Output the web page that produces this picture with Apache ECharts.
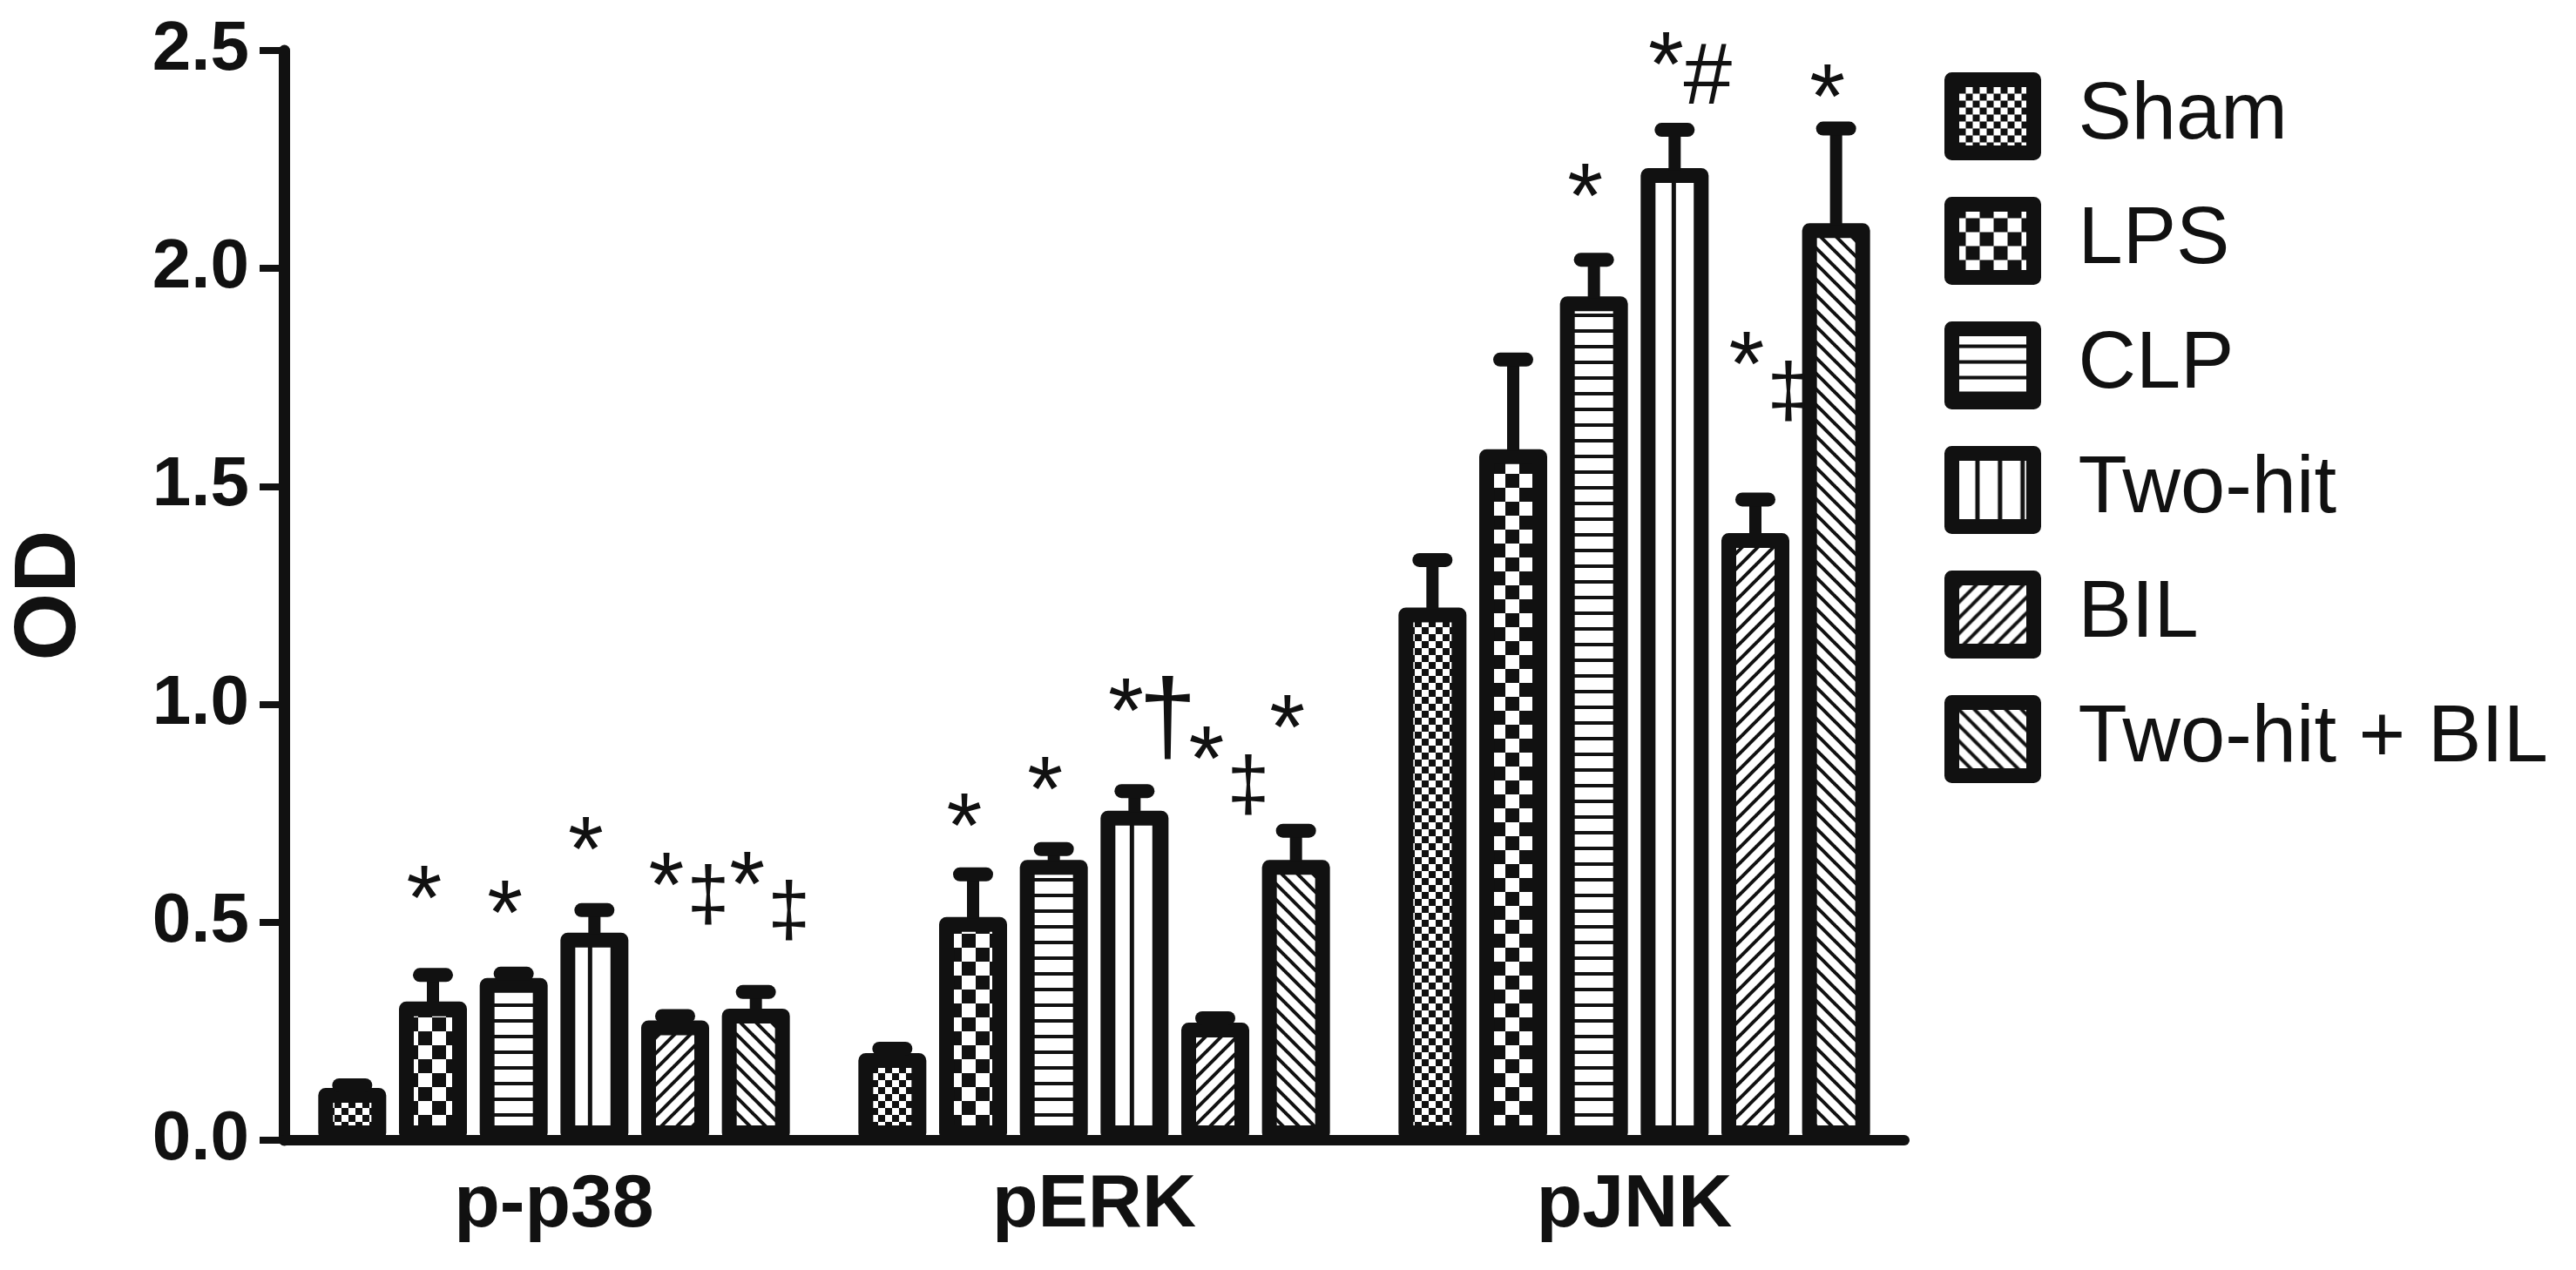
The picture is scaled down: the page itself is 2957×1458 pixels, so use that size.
<!DOCTYPE html>
<html>
<head>
<meta charset="utf-8">
<script src="https://cdn.jsdelivr.net/npm/echarts@6/dist/echarts.min.js"></script>
<style>
html,body{margin:0;padding:0;background:#ffffff;}
#chart{width:2957px;height:1458px;}
</style>
</head>
<body>
<div id="chart"></div>
<script>
// ---------------- data ----------------
const categories = ['p-p38', 'pERK', 'pJNK'];
const groups = ['Sham', 'LPS', 'CLP', 'Two-hit', 'BIL', 'Two-hit + BIL'];

const shamMean      = [0.12, 0.20, 1.222];
const lpsMean       = [0.318, 0.512, 1.585];
const clpMean       = [0.372, 0.643, 1.936];
const twoHitMean    = [0.476, 0.756, 2.23];
const bilMean       = [0.275, 0.27, 1.393];
const twoHitBilMean = [0.302, 0.643, 2.104];

const shamErr      = [0.006, 0.01, 0.109];
const lpsErr       = [0.061, 0.098, 0.206];
const clpErr       = [0.01, 0.025, 0.084];
const twoHitErr    = [0.052, 0.045, 0.088];
const bilErr       = [0.01, 0.01, 0.077];
const twoHitBilErr = [0.038, 0.067, 0.217];

// significance marks (text per category)
const shamMark      = ['', '', ''];
const lpsMark       = ['*', '*', ''];
const clpMark       = ['*', '*', '*'];
const twoHitMark    = ['*', '*\u2020', '*#'];
const bilMark       = ['*\u2021', '*\u2021', '*\u2021'];
const twoHitBilMark = ['*\u2021', '*', '*'];

// heights (OD units) at which the marks sit
const shamStarAt      = [null, null, null];
const lpsStarAt       = [0.590, 0.755, null];
const clpStarAt       = [0.556, 0.839, 2.200];
const twoHitStarAt    = [0.701, 1.019, 2.502];
const bilStarAt       = [0.620, 0.909, 1.815];
const twoHitBilStarAt = [0.622, 0.981, 2.428];

const shamSymAt      = [null, null, null];
const lpsSymAt       = [null, null, null];
const clpSymAt       = [null, null, null];
const twoHitSymAt    = [null, 0.945, 2.434];
const bilSymAt       = [0.548, 0.799, 1.703];
const twoHitBilSymAt = [0.512, null, null];

const yMin = 0, yMax = 2.5, yStep = 0.5;

const means = [shamMean, lpsMean, clpMean, twoHitMean, bilMean, twoHitBilMean];
const errs = [shamErr, lpsErr, clpErr, twoHitErr, bilErr, twoHitBilErr];
const marks = [shamMark, lpsMark, clpMark, twoHitMark, bilMark, twoHitBilMark];
const starAt = [shamStarAt, lpsStarAt, clpStarAt, twoHitStarAt, bilStarAt, twoHitBilStarAt];
const symAt = [shamSymAt, lpsSymAt, clpSymAt, twoHitSymAt, bilSymAt, twoHitBilSymAt];

// ---------------- style ----------------
const INK = '#111111';
const BAR_W = 78;
const BAR_GAP = 0.188;
const BORDER = 17;
const FONT = '"Liberation Sans", Arial, Helvetica, sans-serif';
const GRID = {left: 320, top: 58, width: 1866, height: 1251};

function tile(w, h, draw) {
  const c = document.createElement('canvas');
  c.width = w; c.height = h;
  const g = c.getContext('2d');
  g.fillStyle = '#ffffff';
  g.fillRect(0, 0, w, h);
  g.fillStyle = INK;
  g.strokeStyle = INK;
  draw(g, w, h);
  return {image: c, repeat: 'repeat'};
}
function checker(cell) {
  return tile(cell * 2, cell * 2, (g) => {
    g.fillRect(0, 0, cell, cell);
    g.fillRect(cell, cell, cell, cell);
  });
}
function hLines(period, thick) {
  return tile(8, period, (g, w) => { g.fillRect(0, 0, w, thick); });
}
function vLines(bandW, count, thick, phase) {
  return tile(bandW, 8, (g, w, h) => {
    const p = bandW / count;
    for (let k = -1; k <= count; k++) {
      g.fillRect(phase + k * p - thick / 2, 0, thick, h);
    }
  });
}
function diag(period, thick, up) {
  return tile(period, period, (g, P) => {
    g.lineWidth = thick;
    for (let k = -1; k <= 1; k++) {
      g.beginPath();
      if (up) { g.moveTo(k * P - 1, P + 1); g.lineTo(k * P + P + 1, -1); }
      else { g.moveTo(k * P - 1, -1); g.lineTo(k * P + P + 1, P + 1); }
      g.stroke();
    }
  });
}

const bandW = GRID.width / categories.length;
const barStep = BAR_W * (1 + BAR_GAP);
const twoHitCenter = GRID.left + bandW / 2 + (3 - (groups.length - 1) / 2) * barStep;

const patterns = [
  checker(8),
  checker(16),
  hLines(18, 4),
  vLines(bandW, 24, 5, ((twoHitCenter % bandW) + bandW) % bandW),
  diag(18, 4, true),
  diag(18, 4, false)
];

const barSeries = groups.map((name, gi) => ({
  name: name,
  type: 'bar',
  barWidth: BAR_W,
  barGap: (BAR_GAP * 100) + '%',
  data: means[gi],
  itemStyle: {color: patterns[gi], borderColor: INK, borderWidth: BORDER, borderJoin: 'round'},
  emphasis: {disabled: true},
  z: 2
}));

// error bars
const errRows = [];
groups.forEach((g, gi) => categories.forEach((c, ci) => {
  errRows.push([ci, means[gi][ci], errs[gi][ci], gi]);
}));
const errSeries = {
  name: 'errors',
  type: 'custom',
  clip: false,
  z: 3,
  encode: {x: 0, y: 1},
  data: errRows,
  renderItem: function (params, api) {
    const ci = api.value(0), m = api.value(1), e = api.value(2), gi = api.value(3);
    const cx = api.coord([ci, 0])[0] + (gi - (groups.length - 1) / 2) * barStep;
    const yTop = api.coord([ci, m])[1];
    const yCap = api.coord([ci, m + e])[1];
    return {
      type: 'group',
      children: [
        {type: 'line', shape: {x1: cx, y1: yTop + 2, x2: cx, y2: yCap}, style: {stroke: INK, lineWidth: 14}},
        {type: 'line', shape: {x1: cx - 15, y1: yCap, x2: cx + 15, y2: yCap}, style: {stroke: INK, lineWidth: 16, lineCap: 'round'}}
      ]
    };
  }
};

// significance marks
const markRows = [];
groups.forEach((g, gi) => categories.forEach((c, ci) => {
  if (marks[gi][ci]) markRows.push([ci, starAt[gi][ci], symAt[gi][ci] == null ? -1 : symAt[gi][ci], gi]);
}));
const STAR_SIZE = 105;
const symSize = {'\u2021': 88, '\u2020': 120, '#': 100};
const symShift = {'\u2021': -0.05, '\u2020': -0.05, '#': 0};
const markSeries = {
  name: 'marks',
  type: 'custom',
  clip: false,
  z: 4,
  encode: {x: 0, y: 1},
  data: markRows,
  renderItem: function (params, api) {
    const ci = api.value(0), sy = api.value(1), yy = api.value(2), gi = api.value(3);
    const txt = marks[gi][ci];
    const cx = api.coord([ci, 0])[0] + (gi - (groups.length - 1) / 2) * barStep;
    const children = [];
    const starY = api.coord([ci, sy])[1] + 0.23 * STAR_SIZE;
    children.push({type: 'text', style: {text: '*', x: cx - 10, y: starY, fill: INK,
      font: 'normal ' + STAR_SIZE + 'px ' + FONT, align: 'center', verticalAlign: 'middle'}});
    if (txt.length > 1) {
      const s = txt.charAt(1);
      const fs = symSize[s] || 90;
      const symY = (yy >= 0 ? api.coord([ci, yy])[1] : api.coord([ci, sy])[1]) + symShift[s] * fs;
      children.push({type: 'text', style: {text: s, x: cx + 38, y: symY, fill: INK,
        font: 'normal ' + fs + 'px ' + FONT, align: 'center', verticalAlign: 'middle'}});
    }
    return {type: 'group', children: children};
  }
};

const chart = echarts.init(document.getElementById('chart'), null, {renderer: 'canvas'});
chart.setOption({
  animation: false,
  backgroundColor: '#ffffff',
  grid: GRID,
  legend: {
    data: groups,
    orient: 'vertical',
    left: 2227,
    top: 78,
    icon: 'rect',
    itemWidth: 94,
    itemHeight: 84,
    itemGap: 42,
    selectedMode: false,
    itemStyle: {borderWidth: BORDER, borderColor: INK, borderJoin: 'round'},
    textStyle: {fontFamily: FONT, fontSize: 92, color: INK, lineHeight: 84, padding: [0, 0, 0, 46]}
  },
  xAxis: {
    type: 'category',
    data: categories,
    z: 10,
    axisLine: {lineStyle: {color: INK, width: 12}},
    axisTick: {alignWithLabel: true, length: 30, lineStyle: {color: INK, width: 7}},
    axisLabel: {margin: 32, color: INK, fontFamily: FONT, fontWeight: 'bold', fontSize: 86},
    splitLine: {show: false}
  },
  yAxis: {
    type: 'value',
    min: yMin, max: yMax, interval: yStep,
    name: 'OD',
    nameLocation: 'middle',
    nameRotate: 90,
    nameGap: 218,
    nameTextStyle: {color: INK, fontFamily: FONT, fontWeight: 'bold', fontSize: 100},
    axisLine: {show: true, lineStyle: {color: INK, width: 13}},
    axisTick: {show: true, length: 28, lineStyle: {color: INK, width: 8}},
    axisLabel: {margin: 40, color: INK, fontFamily: FONT, fontWeight: 'bold', fontSize: 80,
      formatter: (v) => v.toFixed(1)},
    splitLine: {show: false}
  },
  series: barSeries.concat([errSeries, markSeries])
});
</script>
</body>
</html>
